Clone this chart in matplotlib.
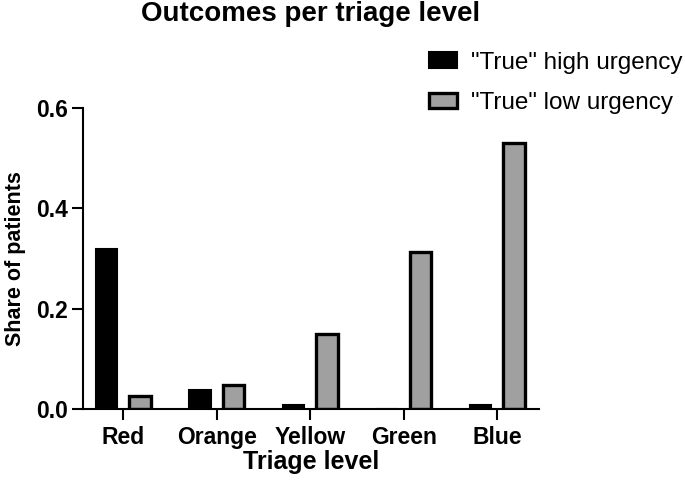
import matplotlib
matplotlib.use("Agg")
import matplotlib.pyplot as plt
import numpy as np

plt.rcParams["font.family"] = ["Liberation Sans", "DejaVu Sans"]

# Data
levels = ["Red", "Orange", "Yellow", "Green", "Blue"]
high_urgency = [0.319, 0.038, 0.008, 0.0, 0.008]
low_urgency = [0.026, 0.047, 0.149, 0.313, 0.531]
series_labels = ['"True" high urgency', '"True" low urgency']

fig = plt.figure(figsize=(6.85, 4.91), dpi=100)
ax = fig.add_axes([0.1212, 0.167, 0.666, 0.613])

x = np.arange(len(levels))
offset = 0.18
width = 0.23
ax.bar(x - offset, high_urgency, width, color="black", edgecolor="black",
       linewidth=1.5, label=series_labels[0])
ax.bar(x + offset, low_urgency, width, color="#a0a0a0", edgecolor="black",
       linewidth=2.4, label=series_labels[1])

ax.set_xlim(-0.43, 4.45)
ax.set_ylim(0, 0.6)
ax.set_yticks([0.0, 0.2, 0.4, 0.6])
ax.set_yticklabels(["0.0", "0.2", "0.4", "0.6"])
ax.set_xticks(x)
ax.set_xticklabels(levels)

for side in ["top", "right"]:
    ax.spines[side].set_visible(False)
for side in ["left", "bottom"]:
    ax.spines[side].set_linewidth(1.5)
ax.tick_params(axis="both", width=1.5, length=8, labelsize=16.5)
ax.tick_params(axis="x", pad=4)
ax.tick_params(axis="y", pad=3)
for lbl in ax.get_xticklabels() + ax.get_yticklabels():
    lbl.set_fontweight("bold")

ax.set_xlabel("Triage level", fontsize=18, fontweight="bold", labelpad=1)
ax.set_ylabel("Share of patients", fontsize=15.5, fontweight="bold", labelpad=7)
fig.text(311 / 685, 1 - 1 / 491, "Outcomes per triage level", fontsize=20,
         fontweight="bold", ha="center", va="top")

fig.legend(loc="upper left", bbox_to_anchor=(419 / 685, 1 - 42 / 491),
           frameon=False, fontsize=17.5, handlelength=1.15, handleheight=0.6,
           handletextpad=0.6, labelspacing=0.75, borderaxespad=0)

fig.savefig("out.png", dpi=100)
